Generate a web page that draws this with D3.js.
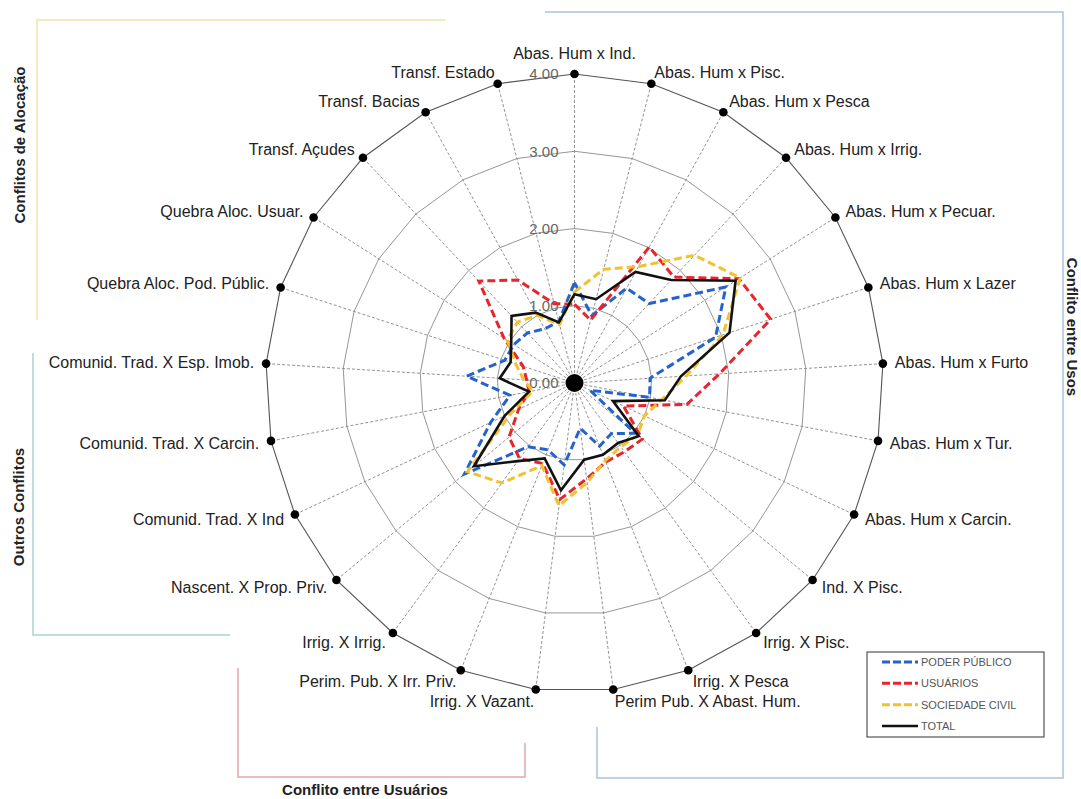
<!DOCTYPE html>
<html>
<head>
<meta charset="utf-8">
<script src="https://cdn.jsdelivr.net/npm/d3@7"></script>
<style>
  html, body { margin: 0; padding: 0; background: #fff; }
  svg { display: block; font-family: Arial, "Liberation Sans", sans-serif; }
</style>
</head>
<body>
<svg id="chart" width="1081" height="799"></svg>
<script>
const categories = [
  "Abas. Hum x Ind.", "Abas. Hum x Pisc.", "Abas. Hum x Pesca", "Abas. Hum x Irrig.",
  "Abas. Hum x Pecuar.", "Abas. Hum x Lazer", "Abas. Hum x Furto", "Abas. Hum x Tur.",
  "Abas. Hum x Carcin.", "Ind. X Pisc.", "Irrig. X Pisc.", "Irrig. X Pesca",
  "Perim Pub. X Abast. Hum.", "Irrig. X Vazant.", "Perim. Pub. X Irr. Priv.", "Irrig. X Irrig.",
  "Nascent. X Prop. Priv.", "Comunid. Trad. X Ind", "Comunid. Trad. X Carcin.",
  "Comunid. Trad. X Esp. Imob.", "Quebra Aloc. Pod. Públic.", "Quebra Aloc. Usuar.",
  "Transf. Açudes", "Transf. Bacias", "Transf. Estado"
];
const poderPublico   = [1.30, 0.90, 1.40, 1.41, 2.32, 1.92, 0.98, 0.99, 0.22, 1.02, 0.81, 0.88, 0.59, 1.07, 0.93, 1.02, 1.85, 1.20, 0.85, 1.40, 0.95, 0.93, 0.89, 0.80, 0.82];
const usuarios       = [1.02, 0.84, 2.01, 1.88, 2.52, 2.67, 1.88, 1.48, 0.70, 1.14, 1.10, 1.10, 1.25, 1.52, 1.12, 1.21, 1.10, 0.80, 0.60, 0.62, 0.70, 1.08, 1.81, 1.52, 1.06];
const sociedadeCivil = [1.18, 1.52, 1.72, 2.27, 2.54, 2.02, 1.45, 1.15, 1.00, 1.06, 1.02, 1.08, 1.30, 1.60, 1.15, 1.60, 1.80, 0.90, 0.55, 0.66, 0.80, 1.03, 1.08, 1.00, 0.78];
const total          = [1.15, 1.12, 1.64, 1.83, 2.47, 2.11, 1.38, 1.19, 0.55, 1.08, 0.96, 1.00, 1.00, 1.40, 1.05, 1.25, 1.69, 1.00, 0.60, 0.97, 0.87, 0.97, 1.19, 1.04, 0.81];
const seriesNames = ["PODER PÚBLICO", "USUÁRIOS", "SOCIEDADE CIVIL", "TOTAL"];
const tickValues = [0, 1, 2, 3, 4];
const groupTitles = ["Conflitos de Alocação", "Outros Conflitos", "Conflito entre Usuários", "Conflito entre Usos"];

const series = [
  { name: seriesNames[0], values: poderPublico,   color: "#2563cc", dash: "8,4", width: 3 },
  { name: seriesNames[1], values: usuarios,       color: "#e8242c", dash: "8,4", width: 3 },
  { name: seriesNames[2], values: sociedadeCivil, color: "#f2c12e", dash: "8,4", width: 3 },
  { name: seriesNames[3], values: total,          color: "#111111", dash: null,  width: 2.6 }
];

const svg = d3.select("#chart");
const cx = 574.5, cy = 383;
const n = categories.length;
const r = d3.scaleLinear().domain([0, 4]).range([0, 309]);
const ang = d3.scaleLinear().domain([0, n]).range([0, 2 * Math.PI]);
const idx = d3.range(n);

// group brackets
const brackets = svg.append("g").attr("fill", "none").attr("stroke-width", 1.5);
brackets.append("path").attr("d", "M445,20H37V320").attr("stroke", "#f1e4a8");
brackets.append("path").attr("d", "M33,353V635H230").attr("stroke", "#a9d2d0");
brackets.append("path").attr("d", "M238,668V777H525V743").attr("stroke", "#e2a6ae");
brackets.append("path").attr("d", "M545,12H1063V778H597V727").attr("stroke", "#a9c3df");

const g = svg.append("g").attr("transform", `translate(${cx},${cy})`);

// spokes
g.append("g").selectAll("line").data(idx).join("line")
  .attr("x1", 0).attr("y1", 0)
  .attr("x2", i => r(4) * Math.sin(ang(i)))
  .attr("y2", i => -r(4) * Math.cos(ang(i)))
  .attr("stroke", "#777").attr("stroke-width", 0.8).attr("stroke-dasharray", "3,2");

// rings (polygons)
const ring = k => d3.lineRadial().angle(i => ang(i)).radius(() => r(k)).curve(d3.curveLinearClosed)(idx);
g.append("g").selectAll("path").data(tickValues.filter(t => t > 0)).join("path")
  .attr("d", k => ring(k)).attr("fill", "none")
  .attr("stroke", k => k === 4 ? "#555" : "#8a8a8a").attr("stroke-width", k => k === 4 ? 1.1 : 0.9);

// tick labels
g.append("g").selectAll("text").data(tickValues).join("text")
  .attr("x", -16).attr("y", t => -r(t)).attr("dy", "0.35em")
  .attr("text-anchor", "end").attr("font-size", 15).attr("fill", "#666")
  .text(d3.format(".2f"));

// series
const line = vals => d3.lineRadial().angle((d, i) => ang(i)).radius(d => r(d)).curve(d3.curveLinearClosed)(vals);
g.append("g").selectAll("path").data(series).join("path")
  .attr("d", s => line(s.values)).attr("fill", "none")
  .attr("stroke", s => s.color).attr("stroke-width", s => s.width)
  .attr("stroke-dasharray", s => s.dash).attr("stroke-linejoin", "miter");

// center marker
g.append("circle").attr("r", 9).attr("fill", "#000");

// outer markers
g.append("g").selectAll("circle").data(idx).join("circle")
  .attr("cx", i => r(4) * Math.sin(ang(i)))
  .attr("cy", i => -r(4) * Math.cos(ang(i)))
  .attr("r", 4.3).attr("fill", "#000");

// category labels
g.append("g").selectAll("text").data(idx).join("text")
  .attr("x", i => (r(4) + 12) * Math.sin(ang(i)))
  .attr("y", i => {
    const yy = -r(4) * Math.cos(ang(i));
    return i === 0 ? yy - 21 : yy - 12 * Math.cos(ang(i));
  })
  .attr("dy", "0.35em")
  .attr("text-anchor", i => {
    const s = Math.sin(ang(i));
    return Math.abs(s) < 0.01 ? "middle" : (s > 0 ? "start" : "end");
  })
  .attr("font-size", 16).attr("fill", "#222")
  .text(i => categories[i]);

// group titles
const titleStyle = sel => sel.attr("text-anchor", "middle").attr("font-size", 15)
  .attr("font-weight", "bold").attr("fill", "#222");
svg.append("text").attr("transform", "translate(25,145) rotate(-90)").call(titleStyle).text(groupTitles[0]);
svg.append("text").attr("transform", "translate(24,507) rotate(-90)").call(titleStyle).text(groupTitles[1]);
svg.append("text").attr("x", 365).attr("y", 795).call(titleStyle).text(groupTitles[2]);
svg.append("text").attr("transform", "translate(1067,327) rotate(90)").call(titleStyle).text(groupTitles[3]);

// legend
const lg = svg.append("g");
lg.append("rect").attr("x", 867).attr("y", 652).attr("width", 177).attr("height", 85)
  .attr("fill", "#fff").attr("stroke", "#333").attr("stroke-width", 1);
const rowY = d3.scalePoint().domain(seriesNames).range([662, 726]);
const items = lg.selectAll("g").data(series).join("g")
  .attr("transform", s => `translate(0,${rowY(s.name)})`);
items.append("line").attr("x1", 882).attr("x2", 918)
  .attr("stroke", s => s.color).attr("stroke-width", s => s.width)
  .attr("stroke-dasharray", s => s.dash ? "8,3" : null);
items.append("text").attr("x", 921).attr("dy", "0.35em")
  .attr("font-size", 11).attr("fill", "#555").text(s => s.name);
</script>
</body>
</html>
